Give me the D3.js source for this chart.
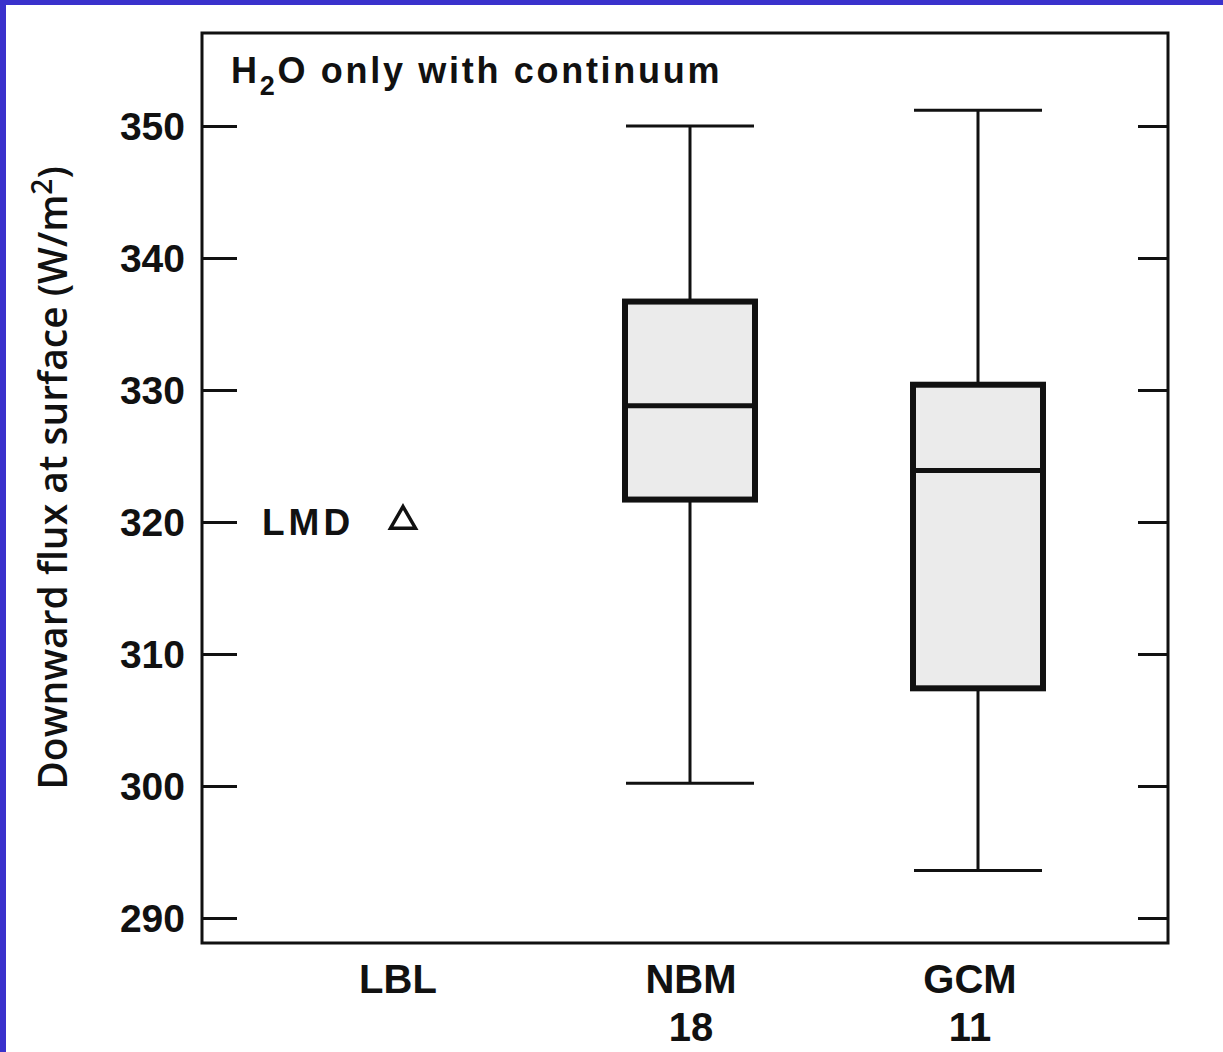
<!DOCTYPE html>
<html>
<head>
<meta charset="utf-8">
<script src="https://cdn.jsdelivr.net/npm/d3@7"></script>
<style>
  html, body { margin: 0; padding: 0; background: #fff; }
  #chart { width: 1223px; height: 1052px; }
  text { font-family: "Liberation Sans", Arial, Helvetica, sans-serif; fill: #111; }
</style>
</head>
<body>
<div id="chart"></div>
<script>
// Chart values
const categories = ['LBL', 'NBM', 'GCM'];
const counts = ['', '18', '11'];
const boxCategories = ['NBM', 'GCM'];
const whiskerLow = [300.2, 293.6];
const boxLow = [321.7, 307.4];
const medians = [328.8, 323.9];
const boxHigh = [336.7, 330.4];
const whiskerHigh = [350.0, 351.2];
const yTicks = [290, 300, 310, 320, 330, 340, 350];
const singleLabel = 'LMD';
const singleValue = 320;

const width = 1223, height = 1052;
const frame = { left: 202, right: 1168, top: 33, bottom: 943 };

const svg = d3.select('#chart').append('svg')
  .attr('width', width)
  .attr('height', height);

// blue scan border on the top and left edges
svg.append('rect').attr('x', 0).attr('y', 0).attr('width', width).attr('height', 5).attr('fill', '#3a31cc');
svg.append('rect').attr('x', 0).attr('y', 0).attr('width', 6).attr('height', height).attr('fill', '#3a31cc');

const y = d3.scaleLinear()
  .domain([290, 350])
  .range([918, 126]);

const x = d3.scalePoint()
  .domain(categories)
  .range([402, 978]);

// small label nudges seen in the scan
const labelShift = { LBL: -4, NBM: 1, GCM: -8 };

// frame
svg.append('rect')
  .attr('x', frame.left)
  .attr('y', frame.top)
  .attr('width', frame.right - frame.left)
  .attr('height', frame.bottom - frame.top)
  .attr('fill', 'none')
  .attr('stroke', '#111')
  .attr('stroke-width', 3);

// left axis, ticks pointing inward
const leftAxis = svg.append('g')
  .attr('transform', `translate(${frame.left},0)`)
  .call(d3.axisRight(y).tickValues(yTicks).tickSize(35).tickFormat(''));
leftAxis.select('.domain').remove();
leftAxis.selectAll('.tick line').attr('stroke', '#111').attr('stroke-width', 3);

svg.append('g')
  .selectAll('text')
  .data(yTicks)
  .join('text')
  .attr('x', 185)
  .attr('y', d => y(d))
  .attr('dy', '0.36em')
  .attr('text-anchor', 'end')
  .attr('font-size', 39)
  .attr('font-weight', 'bold')
  .text(d => d);

// right axis, ticks pointing inward
const rightAxis = svg.append('g')
  .attr('transform', `translate(${frame.right},0)`)
  .call(d3.axisLeft(y).tickValues(yTicks).tickSize(30).tickFormat(''));
rightAxis.select('.domain').remove();
rightAxis.selectAll('.tick line').attr('stroke', '#111').attr('stroke-width', 3);

// y axis title
svg.append('text')
  .attr('transform', `translate(67,478) rotate(-90)`)
  .attr('text-anchor', 'middle')
  .style('font-family', '"Open Sans", "Noto Sans", sans-serif')
  .attr('font-size', 39)
  .attr('font-weight', 600)
  .html('Downward flux at surface (W/m<tspan dy="-15" font-size="28">2</tspan><tspan dy="15">)</tspan>');

// panel title
svg.append('text')
  .attr('x', 231)
  .attr('y', 83)
  .attr('font-size', 36)
  .attr('font-weight', 'bold')
  .attr('letter-spacing', 2.7)
  .html('H<tspan dy="12" font-size="27">2</tspan><tspan dy="-12">O only with continuum</tspan>');

// box plots
const boxW = 130, capW = 128;
const boxes = boxCategories.map((c, i) => ({
  cat: c, lo: whiskerLow[i], q1: boxLow[i], med: medians[i], q3: boxHigh[i], hi: whiskerHigh[i]
}));

const g = svg.append('g');
const bx = g.selectAll('g.box').data(boxes).join('g').attr('class', 'box');

bx.append('line')
  .attr('x1', d => x(d.cat)).attr('x2', d => x(d.cat))
  .attr('y1', d => y(d.hi)).attr('y2', d => y(d.q3))
  .attr('stroke', '#111').attr('stroke-width', 3);
bx.append('line')
  .attr('x1', d => x(d.cat)).attr('x2', d => x(d.cat))
  .attr('y1', d => y(d.q1)).attr('y2', d => y(d.lo))
  .attr('stroke', '#111').attr('stroke-width', 3);
bx.selectAll('line.cap')
  .data(d => [{ cat: d.cat, v: d.hi }, { cat: d.cat, v: d.lo }])
  .join('line')
  .attr('class', 'cap')
  .attr('x1', d => x(d.cat) - capW / 2).attr('x2', d => x(d.cat) + capW / 2)
  .attr('y1', d => y(d.v)).attr('y2', d => y(d.v))
  .attr('stroke', '#111').attr('stroke-width', 3);
bx.append('rect')
  .attr('x', d => x(d.cat) - boxW / 2)
  .attr('width', boxW)
  .attr('y', d => y(d.q3))
  .attr('height', d => y(d.q1) - y(d.q3))
  .attr('fill', '#ebebeb')
  .attr('stroke', '#111')
  .attr('stroke-width', 6);
bx.append('line')
  .attr('x1', d => x(d.cat) - boxW / 2).attr('x2', d => x(d.cat) + boxW / 2)
  .attr('y1', d => y(d.med)).attr('y2', d => y(d.med))
  .attr('stroke', '#111').attr('stroke-width', 5);

// single LMD value shown as an open triangle
svg.append('path')
  .attr('d', d3.symbol().type(d3.symbolTriangle).size(270))
  .attr('transform', `translate(${x('LBL') + 1},${y(singleValue) - 1})`)
  .attr('fill', 'none')
  .attr('stroke', '#111')
  .attr('stroke-width', 3.5);
svg.append('text')
  .attr('x', 262)
  .attr('y', y(singleValue))
  .attr('dy', '0.36em')
  .attr('font-size', 37)
  .attr('font-weight', 'bold')
  .attr('letter-spacing', 4)
  .text(singleLabel);

// category labels
svg.append('g')
  .selectAll('text')
  .data(categories)
  .join('text')
  .attr('x', d => x(d) + labelShift[d])
  .attr('y', 993)
  .attr('text-anchor', 'middle')
  .attr('font-size', 40)
  .attr('font-weight', 'bold')
  .text(d => d);
svg.append('g')
  .selectAll('text')
  .data(categories.map((c, i) => ({ c, n: counts[i] })))
  .join('text')
  .attr('x', d => x(d.c) + labelShift[d.c])
  .attr('y', 1041)
  .attr('text-anchor', 'middle')
  .attr('font-size', 40)
  .attr('font-weight', 'bold')
  .text(d => d.n);
</script>
</body>
</html>
